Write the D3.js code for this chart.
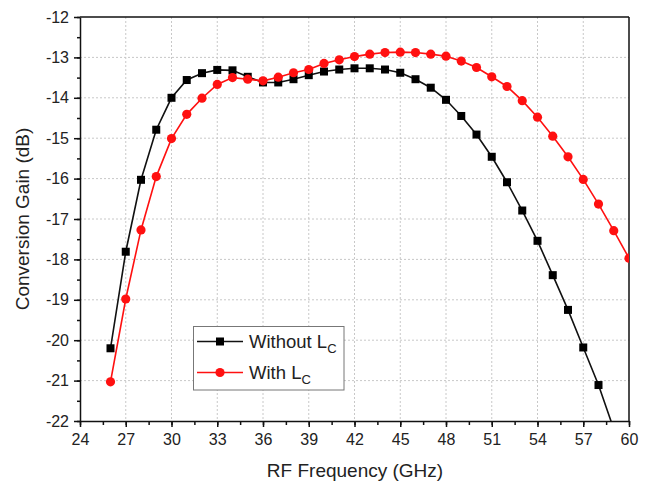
<!DOCTYPE html>
<html><head><meta charset="utf-8">
<script src="https://cdn.jsdelivr.net/npm/d3@7"></script>
<style>body{margin:0;background:#fff;} svg{display:block;} text{font-family:"Liberation Sans",Arial,sans-serif;fill:#222;}</style>
</head><body>
<svg id="c" width="648" height="484"></svg>
<script>
const freqWithout = [26,27,28,29,30,31,32,33,34,35,36,37,38,39,40,41,42,43,44,45,46,47,48,49,50,51,52,53,54,55,56,57,58,59];
const gainWithout = [-20.2,-17.81,-16.03,-14.79,-14.0,-13.56,-13.39,-13.31,-13.32,-13.48,-13.62,-13.62,-13.54,-13.44,-13.35,-13.3,-13.27,-13.27,-13.3,-13.38,-13.54,-13.75,-14.05,-14.45,-14.91,-15.46,-16.09,-16.79,-17.54,-18.39,-19.25,-20.18,-21.11,-22.2];
const freqWith = [26,27,28,29,30,31,32,33,34,35,36,37,38,39,40,41,42,43,44,45,46,47,48,49,50,51,52,53,54,55,56,57,58,59,60];
const gainWith = [-21.03,-18.98,-17.27,-15.95,-15.01,-14.41,-14.01,-13.67,-13.5,-13.54,-13.58,-13.49,-13.38,-13.3,-13.15,-13.06,-12.98,-12.92,-12.88,-12.87,-12.88,-12.92,-12.97,-13.09,-13.25,-13.48,-13.72,-14.07,-14.48,-14.95,-15.46,-16.02,-16.63,-17.29,-17.97];
const xTicks = [24,27,30,33,36,39,42,45,48,51,54,57,60];
const yTicks = [-22,-21,-20,-19,-18,-17,-16,-15,-14,-13,-12];

const L=80,R=629,T=17,B=421;
const svg=d3.select("#c");
const x=d3.scaleLinear().domain([24,60]).range([L,R]);
const y=d3.scaleLinear().domain([-22,-12]).range([B,T]);

// grid
const g=svg.append("g");
g.selectAll("line.gx").data(xTicks.slice(1,-1)).enter().append("line")
 .attr("x1",d=>x(d)).attr("x2",d=>x(d)).attr("y1",T).attr("y2",B)
 .attr("stroke","#c8c8c8").attr("stroke-width",1).attr("stroke-dasharray","2,2");
g.selectAll("line.gy").data(yTicks.slice(1,-1)).enter().append("line")
 .attr("y1",d=>y(d)).attr("y2",d=>y(d)).attr("x1",L).attr("x2",R)
 .attr("stroke","#c8c8c8").attr("stroke-width",1).attr("stroke-dasharray","2,2");

// clip
svg.append("clipPath").attr("id","clip").append("rect").attr("x",L).attr("y",T).attr("width",R-L).attr("height",B-T);

// axes
const xMinor=d3.range(24,60.01,1.5);
const yMinor=d3.range(-22,-11.99,0.5);
const ax=svg.append("g").attr("transform",`translate(0,${B})`);
ax.call(d3.axisBottom(x).tickValues(xMinor).tickSize(4).tickFormat(""));
ax.call(g2=>g2.select(".domain").remove());
const ax2=svg.append("g").attr("transform",`translate(0,${B})`)
 .call(d3.axisBottom(x).tickValues(xTicks).tickSize(6).tickSizeOuter(0).tickPadding(7).tickFormat(d=>String(d)));
ax2.selectAll("text").attr("font-size",16).attr("font-family","Liberation Sans, Arial").attr("fill","#222");
const ay=svg.append("g").attr("transform",`translate(${L},0)`);
ay.call(d3.axisLeft(y).tickValues(yMinor).tickSize(3).tickFormat(""));
ay.call(g2=>g2.select(".domain").remove());
const ay2=svg.append("g").attr("transform",`translate(${L},0)`)
 .call(d3.axisLeft(y).tickValues(yTicks).tickSize(6).tickSizeOuter(0).tickPadding(5).tickFormat(d=>String(d)));
ay2.selectAll("text").attr("font-size",16).attr("font-family","Liberation Sans, Arial").attr("fill","#222");
svg.selectAll(".tick line").attr("stroke","#111").attr("stroke-width",1.5);
svg.selectAll(".domain").attr("stroke","#111").attr("stroke-width",1.5);
// top and right border
svg.append("line").attr("x1",L).attr("x2",R).attr("y1",T).attr("y2",T).attr("stroke","#111").attr("stroke-width",1.5);
svg.append("line").attr("x1",R).attr("x2",R).attr("y1",T).attr("y2",B).attr("stroke","#111").attr("stroke-width",1.5);

// series
const plot=svg.append("g").attr("clip-path","url(#clip)");
const line=d3.line().x(d=>x(d[0])).y(d=>y(d[1]));
const dWithout=freqWithout.map((f,i)=>[f,gainWithout[i]]);
const dWith=freqWith.map((f,i)=>[f,gainWith[i]]);
plot.append("path").datum(dWithout).attr("d",line).attr("fill","none").attr("stroke","#111").attr("stroke-width",1.6);
plot.append("path").datum(dWith).attr("d",line).attr("fill","none").attr("stroke","#ff1010").attr("stroke-width",1.6);
const s=8;
plot.selectAll("rect.m").data(dWithout).enter().append("rect")
 .attr("x",d=>x(d[0])-s/2).attr("y",d=>y(d[1])-s/2).attr("width",s).attr("height",s).attr("fill","#000");
plot.selectAll("circle.m").data(dWith).enter().append("circle")
 .attr("cx",d=>x(d[0])).attr("cy",d=>y(d[1])).attr("r",4.6).attr("fill","#ff1010");

// axis titles
svg.append("text").attr("x",355).attr("y",477).attr("text-anchor","middle").attr("font-size",19).text("RF Frequency (GHz)");
svg.append("text").attr("transform",`translate(29,${(T+B)/2}) rotate(-90)`).attr("text-anchor","middle").attr("font-size",19).text("Conversion Gain (dB)");

// legend
const lg=svg.append("g");
lg.append("rect").attr("x",193.5).attr("y",326.5).attr("width",150.5).attr("height",63.5).attr("fill","#fff").attr("stroke","#777").attr("stroke-width",1);
const items=[{name:"Without L",color:"#111",shape:"square",yy:341.5},{name:"With L",color:"#ff1010",shape:"circle",yy:372.5}];
items.forEach(it=>{
  lg.append("line").attr("x1",197).attr("x2",243).attr("y1",it.yy).attr("y2",it.yy).attr("stroke",it.color).attr("stroke-width",1.6);
  if(it.shape==="square") lg.append("rect").attr("x",220-4).attr("y",it.yy-4).attr("width",8).attr("height",8).attr("fill","#000");
  else lg.append("circle").attr("cx",220).attr("cy",it.yy).attr("r",4.6).attr("fill",it.color);
  const t=lg.append("text").attr("x",249).attr("y",it.yy+6.5).attr("font-size",18.5);
  t.append("tspan").text(it.name);
  t.append("tspan").attr("font-size",13).attr("dy",5).text("C");
});
</script>
</body></html>
